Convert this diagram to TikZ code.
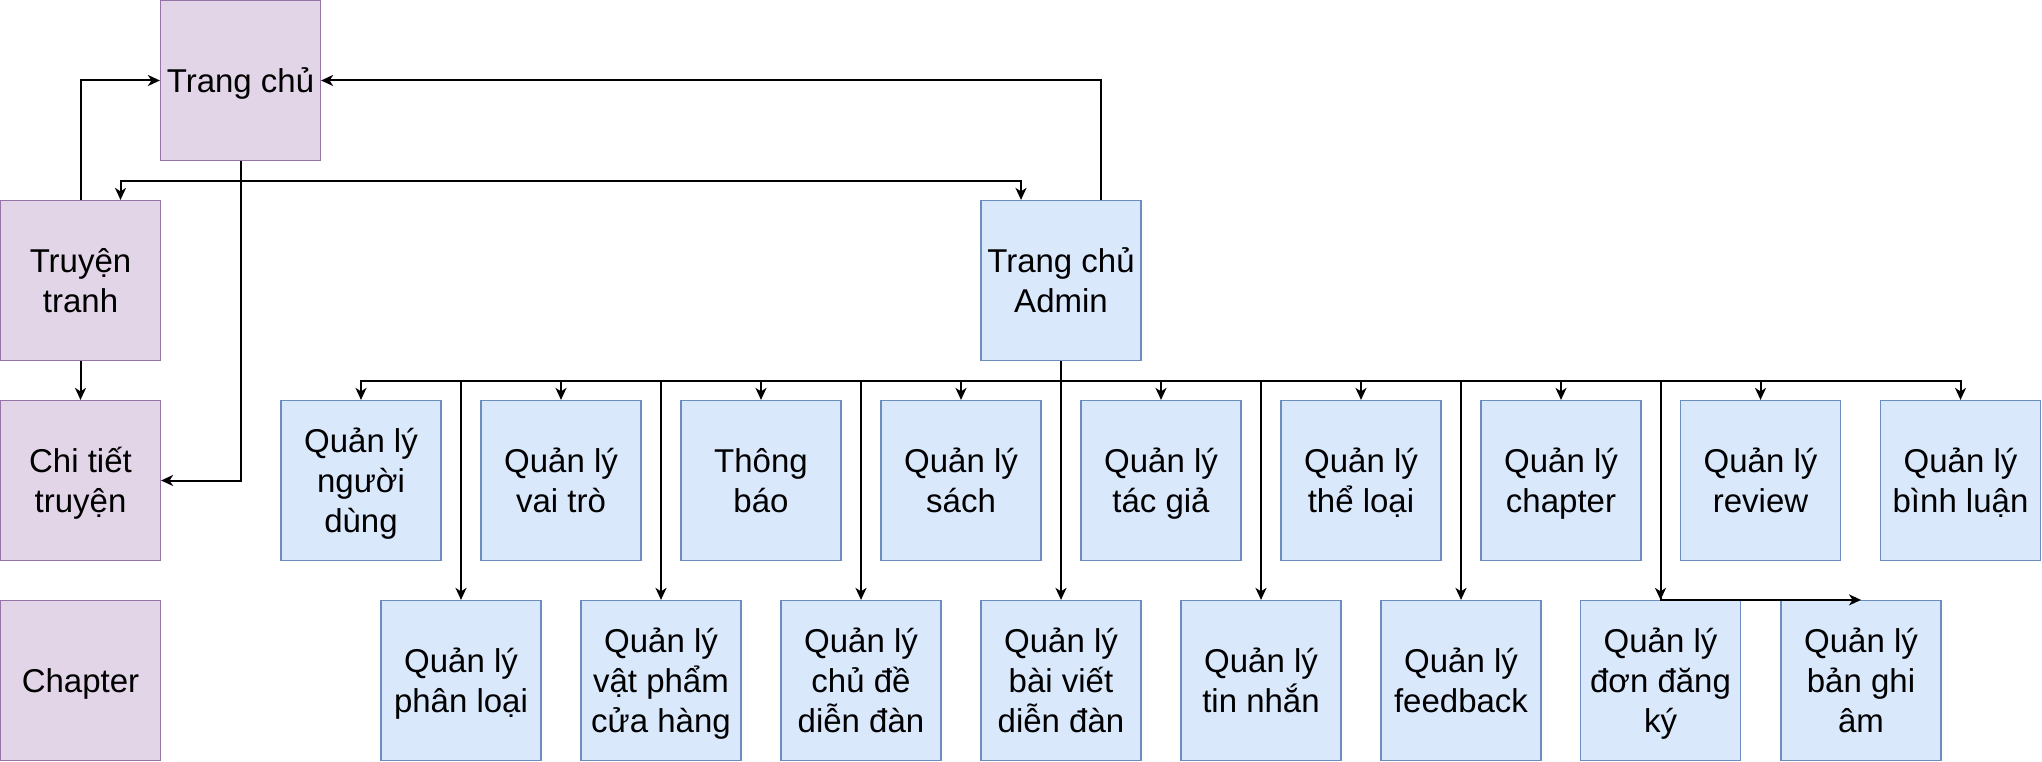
\documentclass[tikz,border=0pt]{standalone}
\usepackage{fontspec}
\setmainfont{Liberation Sans}
\usetikzlibrary{arrows.meta,calc}
\definecolor{pfill}{HTML}{E1D5E7}
\definecolor{pdraw}{HTML}{9673A6}
\definecolor{bfill}{HTML}{DAE8FC}
\definecolor{bdraw}{HTML}{6C8EBF}
\newcommand\lnstrut{\rule[-7.8pt]{0pt}{40pt}}
\newcommand\txt[1]{\vbox{\offinterlineskip\let\\\cr\halign{\hfil\lnstrut##\hfil\cr#1\crcr}}}
\tikzset{
  box/.style={rectangle, minimum width=160pt, minimum height=160pt, inner sep=0pt,
    line width=1.2pt, font=\fontsize{33}{40}\selectfont},
  pbox/.style={box, fill=pfill, draw=pdraw},
  bbox/.style={box, fill=bfill, draw=bdraw},
  arr/.style={line width=2pt, draw=black, -{Stealth[length=12pt,width=11pt,inset=3.5pt]}},
}
\begin{document}
\begin{tikzpicture}[x=1pt,y=-1pt]
\useasboundingbox (0,0) rectangle (2042,762);
% left column
\node[pbox] (tc) at (240.5,80.5) {\txt{Trang chủ}};
\node[pbox] (tt) at (80.5,280.5) {\txt{Truyện\\tranh}};
\node[pbox] (ct) at (80.5,480.5) {\txt{Chi tiết\\truyện}};
\node[pbox] (ch) at (80.5,680.5) {\txt{Chapter}};
% admin
\node[bbox] (ad) at (1061,280.5) {\txt{Trang chủ\\Admin}};
% row 1
\node[bbox] (a1) at (361,480.5) {\txt{Quản lý\\người\\dùng}};
\node[bbox] (a2) at (561,480.5) {\txt{Quản lý\\vai trò}};
\node[bbox] (a3) at (761,480.5) {\txt{Thông\\báo}};
\node[bbox] (a4) at (961,480.5) {\txt{Quản lý\\sách}};
\node[bbox] (a5) at (1161,480.5) {\txt{Quản lý\\tác giả}};
\node[bbox] (a6) at (1361,480.5) {\txt{Quản lý\\thể loại}};
\node[bbox] (a7) at (1561,480.5) {\txt{Quản lý\\chapter}};
\node[bbox] (a8) at (1760.5,480.5) {\txt{Quản lý\\review}};
\node[bbox] (a9) at (1960.5,480.5) {\txt{Quản lý\\bình luận}};
% row 2
\node[bbox] (b1) at (461,680.5) {\txt{Quản lý\\phân loại}};
\node[bbox] (b2) at (661,680.5) {\txt{Quản lý\\vật phẩm\\cửa hàng}};
\node[bbox] (b3) at (861,680.5) {\txt{Quản lý\\chủ đề\\diễn đàn}};
\node[bbox] (b4) at (1061,680.5) {\txt{Quản lý\\bài viết\\diễn đàn}};
\node[bbox] (b5) at (1261,680.5) {\txt{Quản lý\\tin nhắn}};
\node[bbox] (b6) at (1461,680.5) {\txt{Quản lý\\feedback}};
\node[bbox] (b7) at (1660.5,680.5) {\txt{Quản lý\\đơn đăng\\ký}};
\node[bbox] (b8) at (1861,680.5) {\txt{Quản lý\\bản ghi\\âm}};
% top connectors
\draw[arr] (tc.south) -- ++(0,20) -| ([xshift=40pt]tt.north);
\draw[arr] (tc.south) -- ++(0,20) -| ([xshift=-40pt]ad.north);
\draw[arr] (tc.south) |- (ct.east);
\draw[arr] (tt.north) |- (tc.west);
\draw[arr] (tt) -- (ct);
\draw[arr] ([xshift=40pt]ad.north) |- (tc.east);
% admin connectors
\foreach \n in {a1,a2,a3,a4,a5,a6,a7,a8,a9,b1,b2,b3,b4,b5,b6,b7}{
  \draw[arr] (ad.south) -- ++(0,20) -| (\n.north);
}
\draw[arr] (ad.south) -- ++(0,20) -| (b7.north) -- (b8.north);
\end{tikzpicture}
\end{document}
